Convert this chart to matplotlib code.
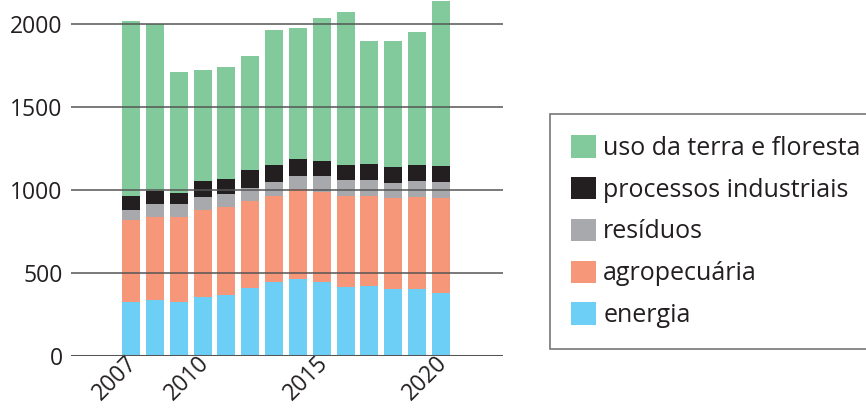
import numpy as np
import matplotlib
matplotlib.use("Agg")
import matplotlib.pyplot as plt
from matplotlib.transforms import ScaledTranslation

anos = np.arange(2007, 2021)
energia = [326, 338, 326, 354, 366, 410, 446, 462, 446, 414, 422, 402, 402, 378]
agropecuaria = [494, 498, 510, 526, 531, 523, 519, 543, 543, 551, 543, 551, 555, 575]
residuos = [59, 79, 79, 77, 78, 78, 82, 79, 95, 95, 95, 89, 97, 95]
processos = [84, 80, 66, 96, 91, 109, 103, 102, 90, 90, 96, 96, 96, 96]
uso_terra = [1055, 1003, 730, 670, 675, 687, 814, 790, 862, 922, 742, 760, 802, 995]

series = [
    ("energia", energia, "#6dcff6"),
    ("agropecuária", agropecuaria, "#f6977a"),
    ("resíduos", residuos, "#a7a9ac"),
    ("processos industriais", processos, "#231f20"),
    ("uso da terra e floresta", uso_terra, "#82ca9c"),
]
xticks = [2007, 2010, 2015, 2020]
yticks = [0, 500, 1000, 1500, 2000]

plt.rcParams['font.family'] = ['Open Sans', 'DejaVu Sans']

fig = plt.figure(figsize=(8.66, 4.09), dpi=100)
ax = fig.add_axes([71/866, 1-355.7/409, (503-71)/866, 355.7/409])

bottom = np.zeros(len(anos))
handles = []
for nome, vals, cor in series:
    b = ax.bar(anos, vals, bottom=bottom, width=0.755, color=cor, label=nome,
               zorder=1, clip_on=False)
    handles.append(b)
    bottom += np.array(vals)

ax.set_xlim(2004.48, 2022.6)
ax.set_ylim(0, 2145)
for s in ax.spines.values():
    s.set_visible(False)
for y in yticks[1:]:
    ax.axhline(y, color="#555555", lw=1.1, zorder=2)
ax.axhline(0, color="#555555", lw=2.2, zorder=3)

ax.set_yticks(yticks)
ax.set_yticklabels([str(v) for v in yticks], fontsize=16.5, color="#231f20")
ax.tick_params(axis="y", length=0, pad=6)
ax.set_xticks(xticks)
ax.set_xticklabels([str(v) for v in xticks], fontsize=16.5, color="#231f20",
                   rotation=45, ha="right", rotation_mode="anchor")
ax.tick_params(axis="x", length=0, pad=1)
for lab in ax.get_xticklabels():
    lab.set_transform(lab.get_transform() + ScaledTranslation(-4/72, 4/72, fig.dpi_scale_trans))

leg = fig.legend(handles[::-1], [s[0] for s in series][::-1],
                 loc="upper left", bbox_to_anchor=(550/866, 1-114/409),
                 fontsize=18, frameon=True, fancybox=False,
                 handlelength=1.0, handleheight=1.0, handletextpad=0.28,
                 labelspacing=0.64, borderpad=0.85, borderaxespad=0)
leg.get_frame().set_edgecolor("#555555")
leg.get_frame().set_linewidth(1.2)
for t in leg.get_texts():
    t.set_color("#231f20")

fig.savefig("out.png", dpi=100)
